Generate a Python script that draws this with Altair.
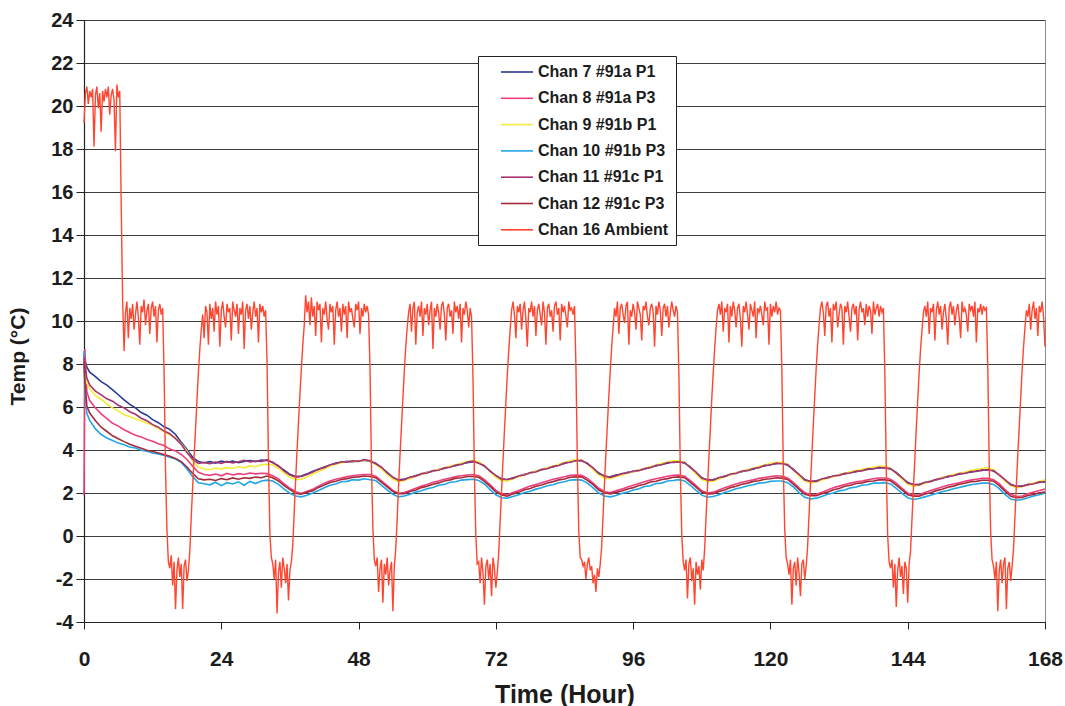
import altair as alt
import pandas as pd

# ---------------- data ----------------
series_names = ["Chan 7 #91a P1", "Chan 8 #91a P3", "Chan 9 #91b P1", "Chan 10 #91b P3",
                "Chan 11 #91c P1", "Chan 12 #91c P3", "Chan 16 Ambient"]
series_colors = ["#2b3a96", "#ee3f7c", "#f2ec3a", "#22a6e6", "#a8336e", "#a32c3c", "#ff4630"]

x_ticks = [0, 24, 48, 72, 96, 120, 144, 168]
y_ticks = [-4, -2, 0, 2, 4, 6, 8, 10, 12, 14, 16, 18, 20, 22, 24]

# probe sample times (hours)
probe_t = [0, 0.15, 0.5] + list(range(1, 169))

chan7 = [8.45, 8.2, 7.85, 7.62, 7.41, 7.18, 7.02, 6.80, 6.57, 6.33, 6.12, 5.96, 5.74, 5.62, 5.41, 5.27, 5.08, 4.96, 4.72, 4.36, 4.02, 3.66, 3.46, 3.41,
         3.46, 3.39, 3.48, 3.43, 3.49, 3.41, 3.47, 3.51, 3.46, 3.53,
         3.51, 3.43, 3.24, 3.06, 2.87, 2.77, 2.79, 2.89, 3.01, 3.09, 3.21, 3.29, 3.39, 3.43, 3.47, 3.46, 3.49, 3.52,
         3.47, 3.39, 3.17, 2.96, 2.71, 2.61, 2.65, 2.71, 2.81, 2.87, 2.96, 3.01, 3.09, 3.14, 3.23, 3.27, 3.36, 3.41,
         3.46, 3.41, 3.24, 3.03, 2.79, 2.66, 2.61, 2.71, 2.77, 2.87, 2.92, 3.01, 3.07, 3.16, 3.21, 3.31, 3.37, 3.46,
         3.53, 3.49, 3.39, 3.14, 2.93, 2.77, 2.75, 2.83, 2.87, 2.96, 2.99, 3.07, 3.11, 3.21, 3.26, 3.34, 3.39, 3.45,
         3.47, 3.39, 3.21, 2.94, 2.71, 2.59, 2.63, 2.69, 2.79, 2.85, 2.94, 2.99, 3.07, 3.11, 3.21, 3.26, 3.33, 3.36,
         3.39, 3.29, 3.11, 2.84, 2.63, 2.52, 2.57, 2.63, 2.73, 2.77, 2.85, 2.89, 2.96, 2.99, 3.06, 3.09, 3.15, 3.16,
         3.19, 3.11, 2.96, 2.69, 2.49, 2.37, 2.41, 2.47, 2.56, 2.61, 2.71, 2.75, 2.83, 2.87, 2.94, 2.97, 3.03, 3.05,
         3.09, 3.02, 2.86, 2.59, 2.41, 2.29, 2.33, 2.37, 2.45, 2.49, 2.56]

chan8 = [1.9, 8.7, 6.70, 6.30, 5.95, 5.68, 5.46, 5.24, 5.11, 4.94, 4.81, 4.69, 4.61, 4.49, 4.41, 4.29, 4.21, 4.04, 3.96, 3.79, 3.56, 3.24, 2.96, 2.86,
         2.82, 2.88, 2.80, 2.91, 2.84, 2.90, 2.86, 2.93, 2.89, 2.92,
         2.90, 2.80, 2.66, 2.42, 2.22, 2.06, 1.98, 2.08, 2.18, 2.32, 2.46, 2.56, 2.64, 2.70, 2.76, 2.80, 2.84, 2.86,
         2.86, 2.78, 2.56, 2.34, 2.12, 1.98, 2.02, 2.12, 2.22, 2.32, 2.40, 2.50, 2.56, 2.64, 2.70, 2.76, 2.80, 2.84,
         2.86, 2.80, 2.62, 2.38, 2.12, 1.96, 1.92, 2.02, 2.12, 2.22, 2.32, 2.40, 2.48, 2.56, 2.64, 2.70, 2.76, 2.82,
         2.84, 2.82, 2.68, 2.46, 2.22, 2.06, 2.02, 2.10, 2.18, 2.28, 2.36, 2.44, 2.52, 2.60, 2.66, 2.72, 2.78, 2.82,
         2.84, 2.78, 2.58, 2.34, 2.10, 2.00, 2.04, 2.14, 2.24, 2.34, 2.42, 2.50, 2.56, 2.62, 2.68, 2.72, 2.76, 2.80,
         2.78, 2.70, 2.50, 2.24, 2.02, 1.92, 1.94, 2.04, 2.14, 2.24, 2.32, 2.40, 2.46, 2.52, 2.56, 2.62, 2.66, 2.70,
         2.70, 2.64, 2.46, 2.22, 2.00, 1.90, 1.92, 2.02, 2.12, 2.20, 2.28, 2.36, 2.42, 2.48, 2.54, 2.60, 2.64, 2.68,
         2.68, 2.62, 2.44, 2.16, 1.94, 1.84, 1.86, 1.96, 2.04, 2.12, 2.18]

chan9 = [8.05, 7.6, 7.10, 6.86, 6.54, 6.36, 6.14, 5.96, 5.81, 5.64, 5.56, 5.44, 5.36, 5.24, 5.16, 4.99, 4.86, 4.69, 4.56, 4.29, 3.96, 3.49, 3.21, 3.12,
         3.08, 3.16, 3.11, 3.19, 3.14, 3.22, 3.17, 3.26, 3.22, 3.31,
         3.34, 3.30, 3.14, 2.92, 2.73, 2.62, 2.64, 2.74, 2.88, 3.00, 3.12, 3.24, 3.34, 3.41, 3.44, 3.49, 3.47, 3.52,
         3.49, 3.34, 3.12, 2.86, 2.64, 2.52, 2.58, 2.67, 2.78, 2.86, 2.95, 3.02, 3.10, 3.17, 3.25, 3.31, 3.39, 3.45,
         3.52, 3.45, 3.26, 3.00, 2.72, 2.58, 2.55, 2.66, 2.76, 2.85, 2.93, 3.02, 3.09, 3.18, 3.24, 3.34, 3.41, 3.50,
         3.56, 3.52, 3.36, 3.08, 2.84, 2.68, 2.66, 2.76, 2.83, 2.93, 2.99, 3.08, 3.13, 3.23, 3.29, 3.38, 3.44, 3.50,
         3.50, 3.42, 3.18, 2.88, 2.64, 2.52, 2.56, 2.65, 2.76, 2.84, 2.94, 3.01, 3.09, 3.15, 3.24, 3.30, 3.38, 3.42,
         3.44, 3.32, 3.08, 2.78, 2.56, 2.46, 2.51, 2.60, 2.70, 2.77, 2.86, 2.92, 2.99, 3.04, 3.10, 3.15, 3.20, 3.24,
         3.24, 3.14, 2.92, 2.64, 2.42, 2.31, 2.36, 2.45, 2.55, 2.63, 2.72, 2.79, 2.86, 2.92, 2.98, 3.04, 3.10, 3.14,
         3.18, 3.08, 2.84, 2.55, 2.35, 2.24, 2.30, 2.38, 2.47, 2.54, 2.62]

chan10 = [8.60, 6.8, 5.70, 5.38, 4.98, 4.72, 4.56, 4.44, 4.32, 4.24, 4.14, 4.09, 3.99, 3.94, 3.86, 3.82, 3.74, 3.66, 3.58, 3.42, 3.12, 2.76, 2.48, 2.43,
          2.38, 2.50, 2.34, 2.48, 2.42, 2.52, 2.36, 2.54, 2.44, 2.56,
          2.60, 2.56, 2.40, 2.18, 1.98, 1.86, 1.82, 1.90, 2.00, 2.12, 2.24, 2.36, 2.42, 2.52, 2.54, 2.62, 2.60, 2.66,
          2.62, 2.58, 2.36, 2.14, 1.94, 1.82, 1.86, 1.94, 2.04, 2.10, 2.20, 2.26, 2.36, 2.40, 2.50, 2.52, 2.60, 2.62,
          2.64, 2.58, 2.42, 2.16, 1.92, 1.78, 1.76, 1.84, 1.92, 2.02, 2.08, 2.18, 2.24, 2.34, 2.38, 2.48, 2.52, 2.60,
          2.62, 2.60, 2.46, 2.24, 2.00, 1.86, 1.82, 1.88, 1.98, 2.04, 2.14, 2.20, 2.30, 2.34, 2.44, 2.46, 2.56, 2.58,
          2.62, 2.56, 2.36, 2.12, 1.90, 1.80, 1.84, 1.92, 2.02, 2.10, 2.20, 2.26, 2.34, 2.38, 2.46, 2.48, 2.54, 2.56,
          2.56, 2.48, 2.28, 2.02, 1.80, 1.72, 1.76, 1.84, 1.94, 2.00, 2.10, 2.14, 2.24, 2.28, 2.36, 2.38, 2.46, 2.46,
          2.48, 2.42, 2.22, 1.98, 1.78, 1.70, 1.74, 1.82, 1.90, 1.98, 2.06, 2.12, 2.20, 2.26, 2.32, 2.38, 2.42, 2.46,
          2.46, 2.40, 2.20, 1.94, 1.72, 1.66, 1.70, 1.78, 1.86, 1.92, 2.00]

chan11 = [8.30, 7.9, 7.35, 7.02, 6.74, 6.56, 6.38, 6.27, 6.08, 5.96, 5.78, 5.66, 5.48, 5.36, 5.18, 5.06, 4.88, 4.76, 4.53, 4.27, 3.88, 3.56, 3.38, 3.42,
          3.36, 3.44, 3.38, 3.47, 3.40, 3.45, 3.52, 3.44, 3.49, 3.47,
          3.55, 3.40, 3.27, 3.02, 2.84, 2.74, 2.77, 2.86, 2.98, 3.12, 3.18, 3.31, 3.36, 3.45, 3.43, 3.50, 3.47, 3.55,
          3.50, 3.36, 3.20, 2.93, 2.74, 2.58, 2.62, 2.74, 2.78, 2.90, 2.93, 3.04, 3.06, 3.17, 3.20, 3.30, 3.33, 3.44,
          3.48, 3.38, 3.27, 3.00, 2.82, 2.63, 2.64, 2.68, 2.80, 2.84, 2.95, 2.98, 3.10, 3.13, 3.24, 3.28, 3.40, 3.43,
          3.50, 3.52, 3.36, 3.17, 2.90, 2.80, 2.73, 2.80, 2.90, 2.93, 3.02, 3.04, 3.14, 3.18, 3.29, 3.31, 3.42, 3.42,
          3.44, 3.42, 3.18, 2.97, 2.68, 2.62, 2.60, 2.72, 2.76, 2.88, 2.91, 3.02, 3.04, 3.14, 3.18, 3.29, 3.30, 3.39,
          3.36, 3.32, 3.08, 2.87, 2.60, 2.55, 2.54, 2.66, 2.70, 2.80, 2.82, 2.92, 2.93, 3.02, 3.03, 3.12, 3.12, 3.19,
          3.16, 3.14, 2.93, 2.72, 2.46, 2.40, 2.38, 2.50, 2.53, 2.64, 2.68, 2.78, 2.80, 2.90, 2.91, 3.00, 3.00, 3.08,
          3.06, 3.05, 2.83, 2.62, 2.38, 2.32, 2.30, 2.40, 2.42, 2.52, 2.50]

chan12 = [8.10, 7.2, 6.05, 5.72, 5.36, 5.06, 4.86, 4.66, 4.52, 4.39, 4.27, 4.17, 4.08, 3.99, 3.93, 3.86, 3.79, 3.71, 3.61, 3.46, 3.21, 2.91, 2.66, 2.61,
          2.64, 2.58, 2.67, 2.62, 2.70, 2.64, 2.71, 2.68, 2.74, 2.71,
          2.79, 2.71, 2.56, 2.34, 2.16, 1.99, 1.95, 2.03, 2.11, 2.26, 2.37, 2.49, 2.55, 2.63, 2.67, 2.73, 2.75, 2.79,
          2.77, 2.71, 2.49, 2.29, 2.07, 1.97, 1.97, 2.07, 2.14, 2.25, 2.31, 2.41, 2.47, 2.56, 2.61, 2.69, 2.71, 2.77,
          2.77, 2.73, 2.54, 2.31, 2.05, 1.91, 1.85, 1.96, 2.03, 2.15, 2.21, 2.31, 2.37, 2.47, 2.53, 2.61, 2.65, 2.73,
          2.75, 2.75, 2.59, 2.39, 2.14, 2.01, 1.96, 2.03, 2.09, 2.19, 2.25, 2.35, 2.41, 2.51, 2.55, 2.63, 2.67, 2.73,
          2.75, 2.71, 2.49, 2.27, 2.03, 1.96, 1.97, 2.07, 2.14, 2.25, 2.31, 2.41, 2.46, 2.54, 2.57, 2.64, 2.66, 2.71,
          2.69, 2.63, 2.41, 2.17, 1.94, 1.87, 1.87, 1.97, 2.04, 2.15, 2.21, 2.31, 2.36, 2.44, 2.47, 2.54, 2.56, 2.61,
          2.61, 2.57, 2.37, 2.15, 1.92, 1.85, 1.85, 1.95, 2.01, 2.11, 2.17, 2.27, 2.32, 2.41, 2.45, 2.52, 2.54, 2.59,
          2.59, 2.55, 2.34, 2.09, 1.85, 1.78, 1.79, 1.88, 1.93, 2.01, 2.04]

# ambient, sampled every 0.25 h from t = 0
ambient = [
    # t 0 - 6.75
    19.2, 20.6, 20.9, 20.1, 20.7, 20.4, 20.8, 18.1, 20.5, 20.9, 19.9, 20.6, 18.8, 20.7, 20.2, 20.8, 20.4, 20.9, 19.6, 20.5,
    20.8, 20.3, 17.9, 21.0, 20.4, 20.7, 15.5, 11.0,
    # t 7 - 13.75
    8.6, 10.4, 10.9, 9.2, 10.6, 10.1, 10.8, 9.6, 10.3, 10.9, 10.2, 8.9, 10.7, 10.4, 11.0, 9.8, 10.5, 10.8, 9.4, 10.6,
    10.9, 10.2, 10.7, 9.0, 10.5, 10.8, 10.3, 10.6,
    # cycle from t 14
    7.6, 3.1, 0.3, -1.2,
    -1.5, -0.9, -2.3, -1.2, -3.4, -1.6, -1.0, -1.9, -1.3, -3.4, -1.4, -1.1, -2.1, -1.6,
    -0.7, 0.9, 2.3, 3.7, 5.0, 6.3, 7.6, 8.7, 9.6, 10.3,
    9.2, 10.7, 10.4, 8.9, 10.8, 10.1, 10.6, 9.5, 10.9, 10.3, 10.7, 8.8, 10.5, 10.9, 10.2, 9.7, 10.8, 10.4, 10.6, 9.1,
    10.9, 10.5, 10.2, 10.8, 9.4, 10.6, 10.3, 10.9, 8.7, 10.5, 10.8, 10.1, 10.7, 9.6, 10.4, 10.9, 10.2, 10.6, 9.0, 10.8,
    10.4, 10.7, 10.2, 10.5,
    # cycle from t 32
    8.1, 3.6, 0.1, -1.0,
    -1.3, -2.0, -1.1, -3.6, -1.7, -1.2, -2.4, -1.0, -1.5, -2.2, -1.3, -3.0, -1.6, -1.2,
    -0.4, 1.1, 2.6, 4.0, 5.3, 6.6, 7.8, 8.9, 9.8, 11.2,
    10.4, 10.9, 9.8, 11.1, 10.2, 10.7, 9.3, 10.9, 10.5, 10.8, 9.0, 10.6, 10.3, 10.9, 10.1, 9.6, 10.8, 10.4, 10.7, 8.9,
    10.5, 10.9, 10.2, 10.6, 9.5, 10.8, 10.3, 10.7, 9.2, 10.9, 10.4, 10.6, 10.1, 9.7, 10.8, 10.5, 10.9, 9.4, 10.6, 10.2,
    10.8, 10.4, 10.7, 10.3,
    # cycle from t 50
    7.8, 3.3, 0.4, -1.1,
    -1.4, -1.0, -2.6, -1.5, -1.1, -3.1, -1.3, -1.8, -1.0, -2.3, -1.6, -1.2, -3.5, -1.4,
    -0.6, 0.8, 2.4, 3.8, 5.1, 6.4, 7.7, 8.8, 9.7, 10.4,
    10.8, 9.5, 10.6, 10.9, 8.9, 10.4, 10.7, 10.2, 10.9, 9.3, 10.6, 10.3, 10.8, 9.8, 10.5, 10.9, 8.7, 10.6, 10.2, 10.8,
    10.4, 9.6, 10.7, 10.9, 10.3, 9.1, 10.6, 10.8, 10.2, 10.5, 9.4, 10.9, 10.4, 10.7, 10.1, 10.8, 9.0, 10.6, 10.3, 10.9,
    10.5, 9.7, 10.6, 10.2,
    # cycle from t 68
    7.4, 2.9, 0.0, -1.3,
    -1.2, -2.2, -1.0, -1.7, -3.2, -1.4, -1.1, -2.0, -1.3, -2.8, -1.0, -1.5, -2.4, -1.7,
    -0.8, 0.7, 2.1, 3.5, 4.9, 6.2, 7.5, 8.6, 9.6, 10.5,
    10.9, 10.3, 9.2, 10.7, 10.4, 10.8, 9.6, 10.5, 10.9, 10.1, 8.8, 10.6, 10.4, 10.9, 10.2, 10.7, 9.3, 10.5, 10.8, 10.3,
    9.8, 10.9, 10.4, 8.9, 10.6, 10.8, 10.2, 10.5, 9.5, 10.7, 10.9, 10.3, 10.6, 9.1, 10.8, 10.4, 10.7, 10.2, 9.7, 10.9,
    10.5, 10.6, 10.3, 10.7,
    # cycle from t 86
    7.9, 3.4, 0.2, -1.0,
    -1.1, -1.4, -1.2, -2.0, -1.3, -1.0, -1.6, -1.4, -2.2, -1.8, -2.6, -1.5, -1.9, -1.3,
    -0.5, 1.0, 2.5, 3.9, 5.2, 6.5, 7.7, 8.8, 9.7, 10.6,
    10.2, 10.9, 9.4, 10.6, 10.8, 10.3, 9.9, 10.7, 10.9, 8.9, 10.5, 10.2, 10.8, 10.4, 9.6, 10.9, 10.6, 10.3, 9.1, 10.7,
    10.5, 10.9, 10.2, 9.8, 10.6, 10.8, 10.4, 8.8, 10.7, 10.3, 10.9, 10.5, 9.3, 10.6, 10.8, 10.2, 10.7, 9.7, 10.4, 10.9,
    10.5, 10.2, 10.7, 10.4,
    # cycle from t 104
    7.5, 3.0, 0.1, -1.2,
    -1.6, -1.1, -2.9, -1.3, -1.0, -2.1, -1.5, -3.2, -1.2, -1.8, -1.4, -2.5, -1.1, -1.6,
    -0.6, 0.9, 2.3, 3.7, 5.0, 6.4, 7.6, 8.7, 9.7, 10.5,
    10.8, 10.3, 10.9, 9.5, 10.6, 10.4, 10.8, 9.0, 10.7, 10.2, 10.9, 10.5, 9.7, 10.6, 10.8, 10.1, 8.8, 10.7, 10.4, 10.9,
    10.3, 9.6, 10.8, 10.5, 10.2, 10.9, 9.2, 10.6, 10.4, 10.7, 10.3, 9.8, 10.9, 10.5, 10.6, 8.9, 10.8, 10.2, 10.7, 10.4,
    10.9, 10.3, 10.6, 10.5,
    # cycle from t 122
    7.7, 3.2, 0.3, -1.0,
    -1.3, -1.8, -1.1, -3.2, -1.5, -1.2, -2.3, -1.0, -1.7, -2.8, -1.3, -1.1, -2.0, -1.4,
    -0.5, 1.0, 2.4, 3.8, 5.2, 6.5, 7.8, 8.9, 9.8, 10.6,
    10.9, 10.4, 9.3, 10.7, 10.9, 10.2, 10.6, 9.0, 10.8, 10.5, 10.9, 9.7, 10.3, 10.8, 10.6, 8.9, 10.7, 10.4, 10.9, 10.2,
    9.5, 10.6, 10.8, 10.3, 10.7, 9.1, 10.5, 10.9, 10.4, 10.6, 9.8, 10.8, 10.2, 10.7, 10.5, 9.4, 10.9, 10.3, 10.6, 10.8,
    10.2, 10.7, 10.4, 10.6,
    # cycle from t 140
    7.6, 3.1, 0.0, -1.2,
    -1.5, -1.1, -2.4, -1.3, -3.3, -1.6, -1.0, -1.9, -1.4, -2.7, -1.2, -1.5, -3.1, -1.3,
    -0.7, 0.8, 2.2, 3.6, 5.0, 6.3, 7.6, 8.7, 9.6, 10.4,
    10.7, 10.2, 10.9, 9.4, 10.6, 10.4, 10.8, 9.1, 10.5, 10.9, 10.3, 10.7, 9.6, 10.4, 10.8, 10.1, 8.9, 10.6, 10.9, 10.3,
    10.7, 9.8, 10.5, 10.8, 10.2, 9.2, 10.9, 10.4, 10.6, 10.3, 9.5, 10.8, 10.5, 10.7, 10.2, 10.9, 9.0, 10.6, 10.4, 10.8,
    10.3, 10.7, 10.5, 10.6,
    # cycle from t 158
    7.8, 3.3, 0.2, -1.1,
    -1.4, -2.0, -1.2, -3.5, -1.6, -1.1, -2.2, -1.3, -1.0, -3.4, -1.5, -1.2, -2.1, -1.4,
    -0.6, 0.9, 2.4, 3.8, 5.1, 6.4, 7.7, 8.8, 9.7, 10.5,
    10.2, 10.8, 9.6, 10.5, 10.9, 10.1, 10.6, 9.3, 10.7, 10.4, 10.9, 10.2, 8.8,
]
ambient_step = 0.25

# ---------------- build long table ----------------
rows = []
for name, vals in zip(series_names[:6], [chan7, chan8, chan9, chan10, chan11, chan12]):
    for t, v in zip(probe_t, vals):
        rows.append({"t": t, "temp": v, "series": name})
for i, v in enumerate(ambient):
    rows.append({"t": i * ambient_step, "temp": v, "series": series_names[6]})
df = pd.DataFrame(rows)

FONT = "Liberation Sans"

color_scale = alt.Scale(domain=series_names, range=series_colors)
legend = alt.Legend(
    orient="none", legendX=394, legendY=36, title=None,
    symbolType="M-2,0H2", symbolSize=256, symbolStrokeWidth=1.6,
    labelFont=FONT, labelFontSize=16, labelFontWeight="bold", labelColor="#1c1c1c",
    padding=7, rowPadding=9.3, labelOffset=12, symbolOffset=23,
    strokeColor="#222222", fillColor="white", labelLimit=400,
)

x_enc = alt.X("t:Q", scale=alt.Scale(domain=[0, 168], nice=False, zero=False),
              axis=alt.Axis(values=x_ticks, grid=False, title="Time (Hour)", labelFlush=False,
                            tickSize=7, tickColor="#222222", domainColor="#222222",
                            labelFont=FONT, labelFontSize=21, labelFontWeight="bold", labelColor="#1c1c1c",
                            labelBaseline="alphabetic", labelPadding=36,
                            labelExpr="datum.value + ''",
                            titleFont=FONT, titleFontSize=25, titleFontWeight="bold", titleColor="#1c1c1c",
                            titleY=80, titleBaseline="alphabetic"))
y_enc = alt.Y("temp:Q", scale=alt.Scale(domain=[-4, 24], nice=False, zero=False),
              axis=alt.Axis(values=y_ticks, grid=True, gridColor="#3c3c3c", gridWidth=1.1,
                            labelFlush=False,
                            title="Temp (°C)", tickSize=8, tickColor="#222222", domainColor="#222222",
                            domainWidth=1.2,
                            labelFont=FONT, labelFontSize=20, labelFontWeight="bold", labelColor="#1c1c1c",
                            labelPadding=3, labelExpr="datum.value + ''",
                            titleFont=FONT, titleFontSize=21, titleFontWeight="bold", titleColor="#1c1c1c",
                            titleX=-56, titleY=336, titleBaseline="bottom"))

layers = []
for name in series_names:
    sw = 1.4 if name == "Chan 16 Ambient" else 1.6
    layers.append(
        alt.Chart(df).transform_filter(alt.datum.series == name)
        .mark_line(strokeWidth=sw)
        .encode(x=x_enc, y=y_enc,
                color=alt.Color("series:N", scale=color_scale, legend=legend),
                order=alt.Order("t:Q"))
    )

chart = alt.layer(*layers).properties(
    width=961, height=602,
    autosize=alt.AutoSizeParams(type="none"),
    padding={"left": 84, "top": 20, "right": 20, "bottom": 84},
    background="white",
).configure_view(stroke="#8a8a8a", strokeWidth=1)

chart.save("out.html", embed_options={"renderer": "svg", "actions": False})
